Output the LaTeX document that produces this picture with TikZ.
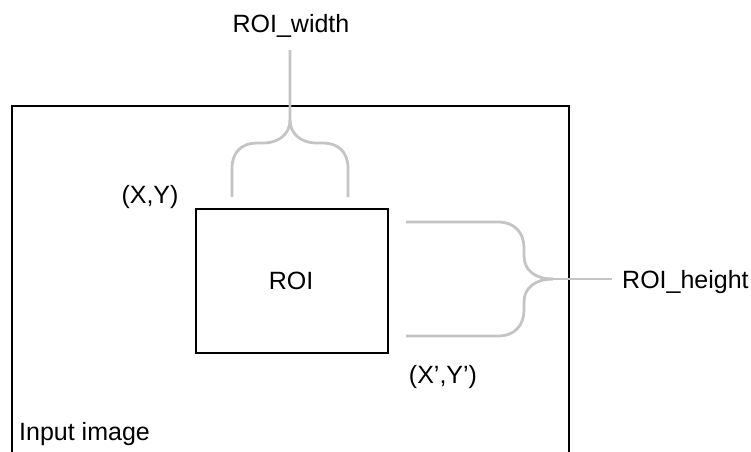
\documentclass[tikz,border=0pt]{standalone}
\usepackage{fontspec}
\setmainfont{Liberation Sans}
\begin{document}
\begin{tikzpicture}[x=1pt,y=-1pt,
  lbl/.style={font=\fontsize{25}{29}\selectfont, inner sep=0pt, anchor=base},
  lblw/.style={lbl, anchor=base west},
  frame/.style={draw=black, line width=2.4pt},
  brace/.style={draw=black!23, line width=2.8pt}]
\useasboundingbox (0,0) rectangle (751,451);
% outer image frame (open at bottom)
\draw[frame] (12,460) -- (12,106) -- (569,106) -- (569,460);
% ROI box
\node[frame, minimum width=192pt, minimum height=144pt, inner sep=0pt, anchor=north west] (roi) at (195,208) {};
\node[lbl] (roitext) at (291,289) {ROI};
% labels
\node[lbl] (roiw) at (291,32) {ROI\_width};
\node[lblw] (roih) at (622,288) {ROI\_height};
\node[lbl] (xy) at (150,203) {(X,Y)};
\node[lbl] (xpyp) at (443,383) {(X’,Y’)};
\node[lblw] (inp) at (19,440) {Input image};
% top brace
\coordinate (tl) at (232,197);
\coordinate (tr) at (348,197);
\coordinate (tmid) at (290,120);
\coordinate (tstem) at (290,50);
\draw[brace] (tl) -- (232,168) .. controls (232,152) and (242,143) .. (257,143) -- (263,143) .. controls (280,143) and (290,133) .. (tmid) -- (tstem);
\draw[brace] (tr) -- (348,168) .. controls (348,152) and (338,143) .. (323,143) -- (317,143) .. controls (300,143) and (290,133) .. (tmid);
% right brace
\coordinate (rt) at (406,222);
\coordinate (rb) at (406,336);
\coordinate (rtip) at (553,279);
\coordinate (rend) at (612,279);
\draw[brace] (rt) -- (498,222) .. controls (515,222) and (524,233) .. (524,248) -- (524,256) .. controls (524,270) and (535,279) .. (rtip);
\draw[brace] (rb) -- (498,336) .. controls (515,336) and (524,325) .. (524,310) -- (524,302) .. controls (524,288) and (535,279) .. (rtip);
\draw[brace] (rtip) -- (rend);
\end{tikzpicture}
\end{document}
